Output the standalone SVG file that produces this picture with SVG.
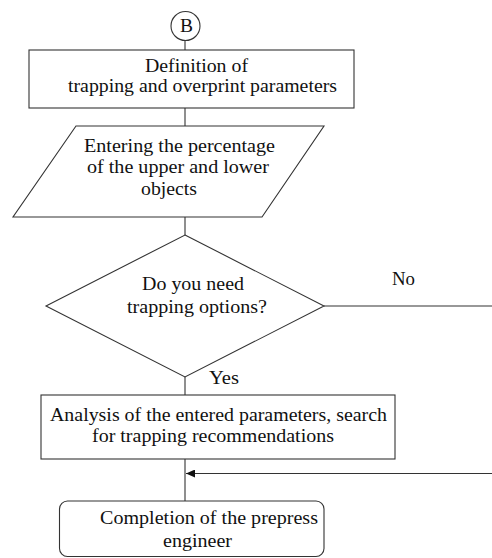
<svg xmlns="http://www.w3.org/2000/svg" width="492" height="558" viewBox="0 0 492 558">
<style>
.s{fill:#fff;stroke:#333;stroke-width:1.1}
.c{fill:none;stroke:#333;stroke-width:1.1}
text{font-family:"Liberation Serif","Times New Roman",serif;font-size:18px;fill:#111}
</style>
<defs>
<marker id="ah" markerWidth="9" markerHeight="8" refX="9" refY="4" orient="auto" markerUnits="userSpaceOnUse">
<path d="M0,0 L9,4 L0,8 Z" fill="#111"/>
</marker>
</defs>
<rect width="492" height="558" fill="#fff"/>
<g id="connectors">
<line class="c" x1="185" y1="40" x2="185" y2="50"/>
<line class="c" x1="185" y1="108" x2="185" y2="126"/>
<line class="c" x1="185" y1="217" x2="185" y2="235"/>
<line class="c" x1="185" y1="377" x2="185" y2="395"/>
<line class="c" x1="185" y1="459" x2="185" y2="501"/>
<line class="c" x1="324" y1="306" x2="492" y2="306"/>
<line class="c" x1="492" y1="473.5" x2="186" y2="473.5" marker-end="url(#ah)"/>
<text x="392" y="285" textLength="23" lengthAdjust="spacingAndGlyphs">No</text>
<text x="209" y="384" textLength="30" lengthAdjust="spacingAndGlyphs">Yes</text>
</g>
<g id="nodeB">
<circle class="s" cx="185.5" cy="26" r="14.5"/>
<text x="180" y="32" textLength="13" lengthAdjust="spacingAndGlyphs">B</text>
</g>
<g id="def">
<rect class="s" x="29" y="50" width="325" height="58"/>
<text x="145" y="72" textLength="103" lengthAdjust="spacingAndGlyphs">Definition of</text>
<text x="68" y="92" textLength="269" lengthAdjust="spacingAndGlyphs">trapping and overprint parameters</text>
</g>
<g id="enter">
<polygon class="s" points="76,126 324,126 262,217 13,217"/>
<text x="84" y="152" textLength="191" lengthAdjust="spacingAndGlyphs">Entering the percentage</text>
<text x="87" y="173" textLength="182" lengthAdjust="spacingAndGlyphs">of the upper and lower</text>
<text x="141" y="195" textLength="56" lengthAdjust="spacingAndGlyphs">objects</text>
</g>
<g id="decision">
<polygon class="s" points="185,235 324,306 185,377 46,306"/>
<text x="142" y="290" textLength="102" lengthAdjust="spacingAndGlyphs">Do you need</text>
<text x="127" y="313" textLength="140" lengthAdjust="spacingAndGlyphs">trapping options?</text>
</g>
<g id="analysis">
<rect class="s" x="41" y="395" width="354" height="64"/>
<text x="50" y="421" textLength="337" lengthAdjust="spacingAndGlyphs">Analysis of the entered parameters, search</text>
<text x="92" y="442" textLength="242" lengthAdjust="spacingAndGlyphs">for trapping recommendations</text>
</g>
<g id="end">
<rect class="s" x="59.5" y="501" width="264.5" height="55.5" rx="8"/>
<text x="100" y="524" textLength="218" lengthAdjust="spacingAndGlyphs">Completion of the prepress</text>
<text x="163" y="547" textLength="69" lengthAdjust="spacingAndGlyphs">engineer</text>
</g>
</svg>
